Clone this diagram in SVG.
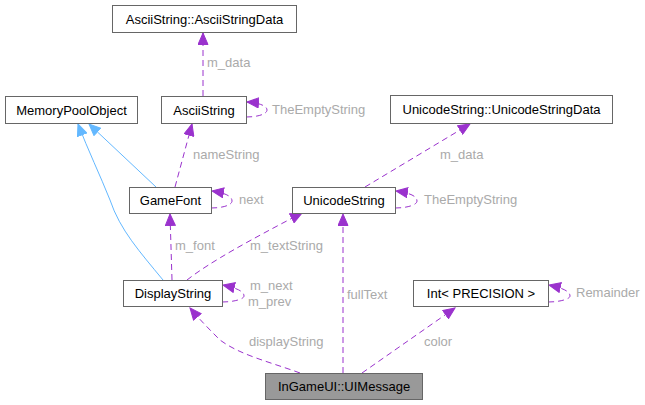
<svg xmlns="http://www.w3.org/2000/svg" width="645" height="405" viewBox="0 0 645 405">
<style>
.n rect{fill:#fff;stroke:#666;stroke-width:1}
.n text{font-family:"Liberation Sans",Arial,sans-serif;font-size:13px;fill:#000;text-anchor:middle}
.e{fill:none;stroke:#9a32cd;stroke-width:1;stroke-dasharray:6,4}
.b{fill:none;stroke:#63b8ff;stroke-width:1}
.l{font-family:"Liberation Sans",Arial,sans-serif;font-size:13px;fill:#aaaaaa}
</style>
<defs>
<marker id="ap" markerUnits="userSpaceOnUse" markerWidth="13" markerHeight="11" refX="12" refY="5.5" orient="auto"><path d="M0.5,0.5 L12,5.5 L0.5,10.5 z" fill="#9a32cd" stroke="#9a32cd"/></marker>
<marker id="ab" markerUnits="userSpaceOnUse" markerWidth="13" markerHeight="11" refX="12" refY="5.5" orient="auto"><path d="M0.5,0.5 L12,5.5 L0.5,10.5 z" fill="#63b8ff" stroke="#63b8ff"/></marker>
</defs>
<rect width="645" height="405" fill="#fff"/>
<g id="edges">
<path class="e" marker-end="url(#ap)" d="M203,96 L203,33"/>
<text class="l" x="207" y="67">m_data</text>
<path class="e" marker-end="url(#ap)" d="M246,117 C258,117 267,114 267,110 C267,106 260,103 247,102"/>
<text class="l" x="272" y="114">TheEmptyString</text>
<path class="e" marker-end="url(#ap)" d="M175,187 L192,124"/>
<text class="l" x="193" y="159">nameString</text>
<path class="b" marker-end="url(#ab)" d="M156,187 L89,124"/>
<path class="b" marker-end="url(#ab)" d="M163,280 C140,252 120,230 110,200 C100,175 88,150 78,124"/>
<path class="e" marker-end="url(#ap)" d="M211,208 C223,208 232,205 232,201 C232,196 225,193 212,191"/>
<text class="l" x="239" y="204">next</text>
<path class="e" marker-end="url(#ap)" d="M172,280 L170,214"/>
<text class="l" x="175" y="250">m_font</text>
<path class="e" marker-end="url(#ap)" d="M187,280 C210,262 250,240 302,213"/>
<text class="l" x="250" y="250">m_textString</text>
<path class="e" marker-end="url(#ap)" d="M222,302 C234,302 244,299 244,296 C244,291 236,288 223,285"/>
<text class="l" x="250" y="290">m_next</text>
<text class="l" x="248" y="306">m_prev</text>
<path class="e" marker-end="url(#ap)" d="M365,187 L470,124"/>
<text class="l" x="440" y="159">m_data</text>
<path class="e" marker-end="url(#ap)" d="M395,208 C407,208 417,205 417,201 C417,196 410,193 396,191"/>
<text class="l" x="424" y="204">TheEmptyString</text>
<path class="e" marker-end="url(#ap)" d="M300,373 C270,362 240,355 220,340 C210,330 200,320 190,308"/>
<text class="l" x="249" y="346">displayString</text>
<path class="e" marker-end="url(#ap)" d="M343,373 L343,214"/>
<text class="l" x="347" y="299">fullText</text>
<path class="e" marker-end="url(#ap)" d="M362,373 L455,308"/>
<text class="l" x="424" y="346">color</text>
<path class="e" marker-end="url(#ap)" d="M548,302 C560,302 570,299 570,296 C570,291 562,288 549,285"/>
<text class="l" x="576" y="297">Remainder</text>
</g>
<g id="AsciiStringData" class="n"><rect x="112.5" y="5.5" width="184" height="27"/><text x="204.5" y="23.5">AsciiString::AsciiStringData</text></g>
<g id="MemoryPoolObject" class="n"><rect x="5.5" y="96.5" width="132" height="27"/><text x="71.5" y="114.5">MemoryPoolObject</text></g>
<g id="AsciiString" class="n"><rect x="161.5" y="96.5" width="85" height="27"/><text x="204" y="114.5">AsciiString</text></g>
<g id="UnicodeStringData" class="n"><rect x="390.5" y="95.5" width="222" height="28"/><text x="501.5" y="113.5">UnicodeString::UnicodeStringData</text></g>
<g id="GameFont" class="n"><rect x="129.5" y="187.5" width="82" height="26"/><text x="170.5" y="205">GameFont</text></g>
<g id="UnicodeString" class="n"><rect x="292.5" y="187.5" width="103" height="26"/><text x="344" y="205">UnicodeString</text></g>
<g id="DisplayString" class="n"><rect x="123.5" y="280.5" width="99" height="26"/><text x="173" y="298">DisplayString</text></g>
<g id="IntPrecision" class="n"><rect x="413.5" y="280.5" width="135" height="26"/><text x="481" y="298">Int&lt; PRECISION &gt;</text></g>
<g id="UIMessage" class="n"><rect x="265.5" y="373.5" width="157" height="26" style="fill:#999"/><text x="344" y="391">InGameUI::UIMessage</text></g>
</svg>
